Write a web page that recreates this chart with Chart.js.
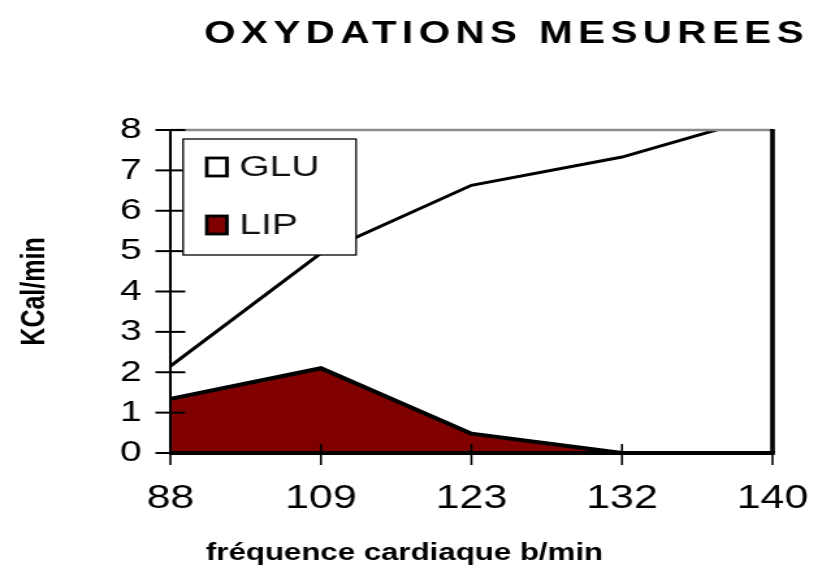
<!DOCTYPE html>
<html>
<head>
<meta charset="utf-8">
<script src="https://cdn.jsdelivr.net/npm/chart.js@4/dist/chart.umd.min.js"></script>
<style>
  html, body { margin: 0; padding: 0; background: #fff; overflow: hidden; }
  #wrap { width: 629px; height: 571px; transform-origin: 0 0; transform: scaleX(1.3005); }
  #c { display: block; }
</style>
</head>
<body>
<div id="wrap"><canvas id="c" width="629" height="571"></canvas></div>
<script>
// ---- data ----
const categories = ['88', '109', '123', '132', '140'];
const lipValues = [1.34, 2.1, 0.48, 0, 0];      // bottom layer (LIP)
const gluValues = [0.81, 2.85, 6.15, 7.33, 8.4]; // stacked on top (GLU)
const yTicks = [0, 1, 2, 3, 4, 5, 6, 7, 8];
const chartTitle = 'OXYDATIONS MESUREES';
const xTitle = 'fréquence cardiaque b/min';
const yTitle = 'KCal/min';
const legendOrder = ['GLU', 'LIP'];

const FONT = "'Liberation Sans', Arial, sans-serif";

const framePlugin = {
  id: 'frame',
  afterDatasetsDraw(chart) {
    const { ctx, chartArea: a, scales: { x, y } } = chart;
    ctx.save();
    // top border (grey)
    ctx.strokeStyle = '#8a8a8a';
    ctx.lineWidth = 2.5;
    ctx.beginPath(); ctx.moveTo(a.left, a.top); ctx.lineTo(a.right, a.top); ctx.stroke();
    // right border
    ctx.strokeStyle = '#000';
    ctx.lineWidth = 3.6;
    ctx.beginPath(); ctx.moveTo(a.right, a.top - 1); ctx.lineTo(a.right, a.bottom); ctx.stroke();
    // left axis
    ctx.lineWidth = 2;
    ctx.beginPath(); ctx.moveTo(a.left, a.top - 1); ctx.lineTo(a.left, a.bottom + 2); ctx.stroke();
    // y ticks crossing axis
    ctx.lineWidth = 2;
    yTicks.forEach(v => {
      const py = y.getPixelForValue(v);
      ctx.beginPath(); ctx.moveTo(a.left - 11.5, py); ctx.lineTo(a.left + 11.5, py); ctx.stroke();
    });
    // bottom axis
    ctx.lineWidth = 4;
    ctx.beginPath(); ctx.moveTo(a.left, a.bottom); ctx.lineTo(a.right + 1.8, a.bottom); ctx.stroke();
    // x ticks crossing axis
    ctx.lineWidth = 1.6;
    categories.forEach((c, i) => {
      const px = x.getPixelForValue(i);
      ctx.beginPath(); ctx.moveTo(px, a.bottom - 9); ctx.lineTo(px, a.bottom + 12); ctx.stroke();
    });
    ctx.restore();
  },
  afterDraw(chart) {
    const { ctx } = chart;
    ctx.save();
    // legend box
    const bx = 140.8, by = 139, bw = 133, bh = 116;
    ctx.fillStyle = '#fff';
    ctx.fillRect(bx, by, bw, bh);
    ctx.strokeStyle = '#000';
    ctx.lineWidth = 1.3;
    ctx.strokeRect(bx, by, bw, bh);
    const baselines = [176, 234];
    ctx.font = '30px ' + FONT;
    ctx.textBaseline = 'alphabetic';
    ctx.textAlign = 'left';
    legendOrder.forEach((lab, i) => {
      const ds = chart.data.datasets.find(d => d.label === lab);
      const bl = baselines[i];
      ctx.fillStyle = ds.backgroundColor;
      ctx.fillRect(159, bl - 18, 15.5, 18);
      ctx.strokeStyle = '#000';
      ctx.lineWidth = 2.8;
      ctx.strokeRect(159, bl - 18, 15.5, 18);
      ctx.fillStyle = '#111';
      ctx.fillText(lab, 184, bl);
    });
    // chart title
    ctx.fillStyle = '#000';
    ctx.font = 'bold 31px ' + FONT;
    ctx.textBaseline = 'middle';
    ctx.textAlign = 'left';
    try { ctx.letterSpacing = '4.2px'; } catch (e) {}
    ctx.fillText(chartTitle, 157, 34);
    try { ctx.letterSpacing = '0px'; } catch (e) {}
    // x axis title
    ctx.font = 'bold 24px ' + FONT;
    ctx.textAlign = 'center';
    ctx.fillText(xTitle, 311, 553);
    ctx.restore();
  }
};

new Chart(document.getElementById('c'), {
  type: 'line',
  data: {
    labels: categories,
    datasets: [
      {
        label: 'LIP',
        data: lipValues,
        backgroundColor: '#800000',
        borderColor: '#000',
        borderWidth: 4,
        fill: 'origin',
        pointRadius: 0,
        tension: 0
      },
      {
        label: 'GLU',
        data: gluValues,
        backgroundColor: '#ffffff',
        borderColor: '#000',
        borderWidth: 3,
        fill: '-1',
        pointRadius: 0,
        tension: 0
      }
    ]
  },
  options: {
    responsive: false,
    devicePixelRatio: 1,
    animation: false,
    layout: { padding: { left: 0, top: 130, right: 35, bottom: 0 } },
    plugins: {
      legend: { display: false },
      title: { display: false },
      tooltip: { enabled: false }
    },
    scales: {
      x: {
        type: 'category',
        offset: false,
        grid: { display: false },
        border: { display: false },
        ticks: {
          color: '#000',
          font: { family: FONT, size: 33 },
          padding: 18,
          maxRotation: 0,
          autoSkip: false
        },
        afterFit(s) { s.height = 118; s.paddingLeft = 0; s.paddingRight = 0; }
      },
      y: {
        stacked: true,
        min: 0,
        max: 8,
        grid: { display: false },
        border: { display: false },
        ticks: {
          stepSize: 1,
          color: '#000',
          font: { family: FONT, size: 30 },
          padding: 14
        },
        title: {
          display: true,
          text: yTitle,
          color: '#000',
          font: { family: FONT, size: 25, weight: 'bold' },
          padding: { top: 12, bottom: 0 }
        },
        afterFit(s) { s.width = 131; s.paddingTop = 0; s.paddingBottom = 0; }
      }
    }
  },
  plugins: [framePlugin]
});
</script>
</body>
</html>
